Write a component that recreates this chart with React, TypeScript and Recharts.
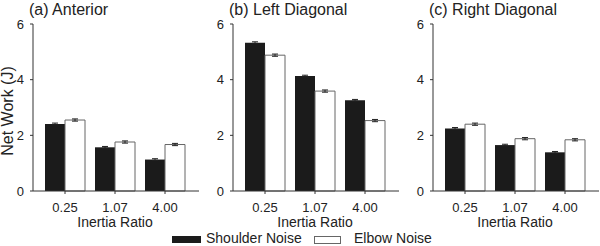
import React from "react";
import { BarChart, Bar, XAxis, YAxis, ErrorBar } from "recharts";

const ratios = ["0.25", "1.07", "4.00"];
const yTicks = [0, 2, 4, 6];

const anteriorShoulder = [2.41, 1.57, 1.13];
const anteriorElbow = [2.55, 1.76, 1.67];
const leftShoulder = [5.33, 4.13, 3.26];
const leftElbow = [4.88, 3.59, 2.53];
const rightShoulder = [2.25, 1.65, 1.39];
const rightElbow = [2.4, 1.88, 1.84];

const shoulderErr = [0.03, 0.03, 0.03];
const elbowErr = [0.04, 0.04, 0.04];

const panelTitles = ["(a) Anterior", "(b) Left Diagonal", "(c) Right Diagonal"];

const font = "'Liberation Sans', Arial, sans-serif";
const ink = "#222";

const buildRows = (shoulder: number[], elbow: number[]) =>
	ratios.map((r, i) => ({
		ratio: r,
		shoulder: shoulder[i],
		elbow: elbow[i],
		shoulderErr: shoulderErr[i],
		elbowErr: elbowErr[i],
	}));

const panels = [
	buildRows(anteriorShoulder, anteriorElbow),
	buildRows(leftShoulder, leftElbow),
	buildRows(rightShoulder, rightElbow),
];

const YLabel = () => (
	<text
		x={13}
		y={111}
		transform="rotate(-90, 13, 111)"
		textAnchor="middle"
		fontSize={16}
		fill={ink}
		fontFamily={font}
	>
		Net Work (J)
	</text>
);

const XLabel = () => (
	<text
		x={115}
		y={227}
		textAnchor="middle"
		fontSize={14}
		fill={ink}
		fontFamily={font}
	>
		Inertia Ratio
	</text>
);

const Panel = ({ data, showYLabel }: { data: any[]; showYLabel: boolean }) => (
	<BarChart
		width={200}
		height={234}
		data={data}
		margin={{ top: 24, right: 1, left: 0, bottom: 7 }}
		barCategoryGap="10%"
		barGap={0}
	>
		<XAxis
			dataKey="ratio"
			padding={{ left: 7, right: 9 }}
			height={36}
			tickSize={3}
			tickMargin={9}
			stroke="#333"
			tick={{ fontSize: 13, fill: ink, fontFamily: font }}
			label={<XLabel />}
		/>
		<YAxis
			domain={[0, 6]}
			ticks={yTicks}
			width={33}
			tickSize={3}
			tickMargin={6}
			stroke="#333"
			tick={{ fontSize: 13, fill: ink, fontFamily: font }}
			label={showYLabel ? <YLabel /> : undefined}
		/>
		<Bar dataKey="shoulder" fill="#1b1b1b" isAnimationActive={false}>
			<ErrorBar dataKey="shoulderErr" width={3} stroke={ink} strokeWidth={1} />
		</Bar>
		<Bar dataKey="elbow" fill="#ffffff" stroke="#666" strokeWidth={1} isAnimationActive={false}>
			<ErrorBar dataKey="elbowErr" width={3} stroke={ink} strokeWidth={1} />
		</Bar>
	</BarChart>
);

export default function App() {
	return (
		<div style={{ position: "absolute", left: 0, top: 0, width: 600, height: 246, background: "#fff" }}>
			<div style={{ display: "flex" }}>
				{panels.map((rows, i) => (
					<Panel key={i} data={rows} showYLabel={i === 0} />
				))}
			</div>
			<svg
				width={600}
				height={246}
				style={{ position: "absolute", left: 0, top: 0, pointerEvents: "none" }}
				fontFamily={font}
			>
				{panelTitles.map((t, i) => (
					<text key={t} x={29 + i * 200} y={15} fontSize={16} fill={ink}>
						{t}
					</text>
				))}
				<rect x={172} y={236} width={29} height={7} fill="#1b1b1b" />
				<text x={206} y={243} fontSize={14} fill={ink}>
					Shoulder Noise
				</text>
				<rect x={314.5} y={236.5} width={26} height={7} fill="#fff" stroke="#666" />
				<text x={354} y={243} fontSize={14} fill={ink}>
					Elbow Noise
				</text>
			</svg>
		</div>
	);
}
